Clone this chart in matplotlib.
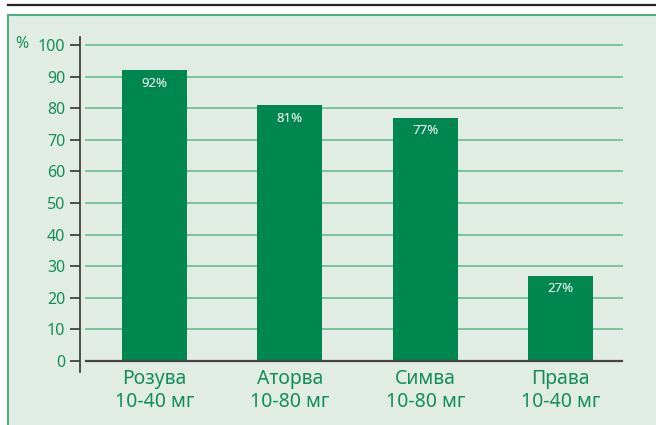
import matplotlib.pyplot as plt
from matplotlib.patches import Rectangle
from matplotlib.lines import Line2D

drugs = ['Розува', 'Аторва', 'Симва', 'Права']
doses = ['10-40 мг', '10-80 мг', '10-80 мг', '10-40 мг']
values = [92, 81, 77, 27]
yticks = [0, 10, 20, 30, 40, 50, 60, 70, 80, 90, 100]

green = '#00874f'
text_green = '#128d5b'
bg = '#e1ede4'
grid_col = '#72bf97'

plt.rcParams['font.family'] = ['Noto Sans', 'DejaVu Sans']

fig = plt.figure(figsize=(6.56, 4.25), dpi=100)
fig.patch.set_facecolor('white')

# panel behind the chart
fig.patches.append(Rectangle((8 / 656, -0.1), 1.0, (425 - 15) / 425 + 0.1,
                             transform=fig.transFigure, facecolor=bg,
                             edgecolor='#4caf80', linewidth=1.5, zorder=-1))
fig.lines.append(Line2D([8 / 656, 1.0], [1 - 5 / 425, 1 - 5 / 425],
                        transform=fig.transFigure, color='#222222', linewidth=1.6))

ax = fig.add_axes([86 / 656, 64 / 425, 536 / 656, 316 / 425])
ax.set_zorder(2)
ax.set_facecolor('none')

x = range(len(values))
ax.bar(x, values, width=0.48, color=green, zorder=3)
for i, v in enumerate(values):
    ax.annotate(f'{v}%', (i, v), xytext=(0, -9.5), textcoords='offset points',
                ha='center', va='center', color='white', fontsize=9.5, zorder=4)

ax.set_xlim(-0.506, 3.454)
ax.set_ylim(0, 100)
ax.set_yticks(yticks)
ax.set_xticks(list(x))
ax.set_xticklabels([f'{d}\n{s}' for d, s in zip(drugs, doses)], linespacing=1.2)
ax.tick_params(axis='x', length=0, pad=6, labelsize=14, labelcolor=text_green)
ax.tick_params(axis='y', length=7.2, width=1.2, color='#333333', pad=3.5,
               labelsize=11.5, labelcolor=text_green)

for y in yticks[1:]:
    ax.axhline(y, color=grid_col, linewidth=1.3, zorder=1, clip_on=False)

for s in ['top', 'right']:
    ax.spines[s].set_visible(False)
ax.spines['bottom'].set_color('#444444')
ax.spines['bottom'].set_linewidth(1.6)
ax.spines['bottom'].set_zorder(4)
ax.spines['left'].set_position(('outward', 4.3))
ax.spines['left'].set_bounds(-3.5, 102.5)
ax.spines['left'].set_color('#333333')
ax.spines['left'].set_linewidth(1.2)

fig.text(15 / 656, 1 - 44 / 425, '%', color=text_green, fontsize=11.5,
         ha='left', va='center')

fig.savefig('out.png', dpi=100)
